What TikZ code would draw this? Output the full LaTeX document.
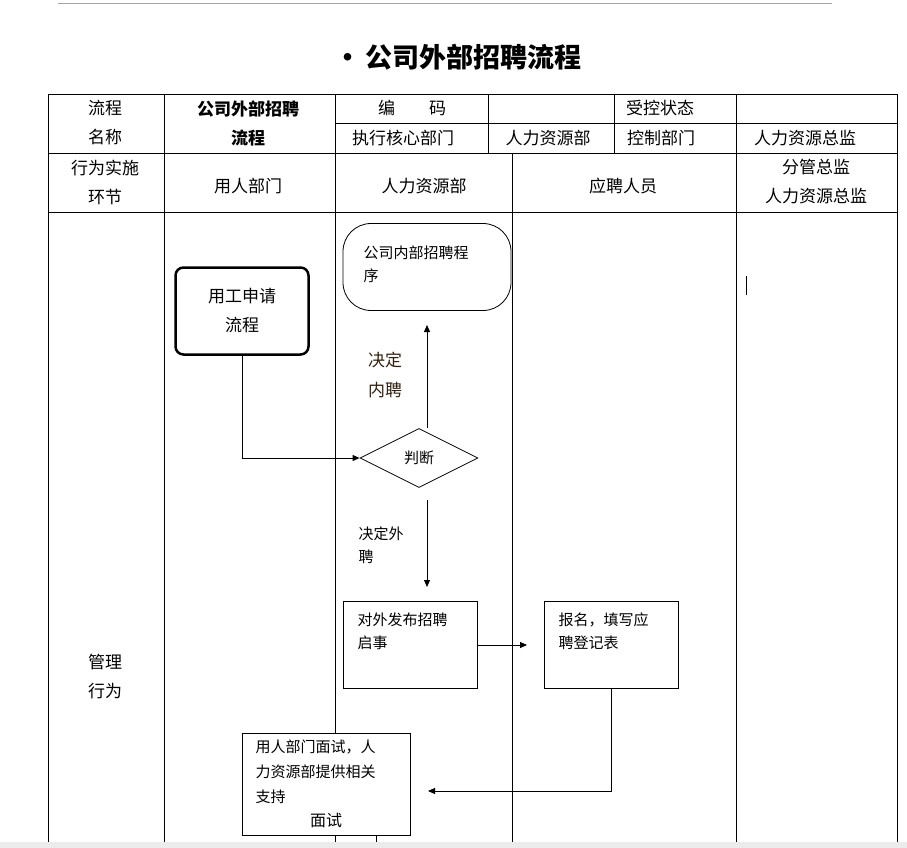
\documentclass[tikz,border=0pt]{standalone}
\usepackage{fontspec}
\setmainfont{Noto Sans CJK SC}
\usetikzlibrary{shapes.geometric,arrows.meta}
\begin{document}
\begin{tikzpicture}[x=1pt,y=-1pt,
  tl/.style={font=\fontsize{17}{29}\selectfont},
  arr/.style={-{Triangle[length=7pt,width=6pt]},line width=0.9pt}]
\useasboundingbox (0,0) rectangle (907,848);
\draw[gray!70,line width=1pt] (58,4) -- (832,4);
\node[font=\fontsize{27}{30}\selectfont\bfseries] (title) at (458,57) {•\,公司外部招聘流程};
% table
\draw[line width=0.9pt] (48,848) -- (48,94) -- (897,94) -- (897,848);
\draw[line width=0.8pt] (335,123) -- (897,123);
\draw[line width=0.8pt] (48,153) -- (897,153);
\draw[line width=0.8pt] (48,212) -- (897,212);
\foreach \x in {164,335} \draw[line width=0.8pt] (\x,94) -- (\x,848);
\foreach \x in {488,614,736} \draw[line width=0.8pt] (\x,94) -- (\x,153);
\foreach \x in {512,736} \draw[line width=0.8pt] (\x,153) -- (\x,848);
\node[tl,align=center] (h1) at (105,123) {流程\\名称};
\node[tl,align=center,font=\fontsize{17}{29}\selectfont\bfseries] (h2) at (248,123) {公司外部招聘\\流程};
\node[tl] (h3) at (412,108) {编\hspace{2em}码};
\node[tl] (h4) at (660,108) {受控状态};
\node[tl] (h5) at (403,138) {执行核心部门};
\node[tl] (h6) at (548,138) {人力资源部};
\node[tl] (h7) at (661,138) {控制部门};
\node[tl] (h8) at (805,138) {人力资源总监};
\node[tl,align=center] (r1) at (105,182) {行为实施\\环节};
\node[tl] (r2) at (248,186) {用人部门};
\node[tl] (r3) at (424,186) {人力资源部};
\node[tl] (r4) at (623,186) {应聘人员};
\node[tl,align=center] (r5) at (816,182) {分管总监\\人力资源总监};
\node[tl,align=center] (mg) at (105,677) {管理\\行为};
% flow
\node[draw,line width=2.5pt,rounded corners=8pt,minimum width=133pt,minimum height=87pt,align=center,font=\fontsize{17}{29}\selectfont] (req) at (242,311) {用工申请\\流程};
\node[draw,line width=0.8pt,rounded corners=28pt,minimum width=168pt,minimum height=87pt] (inner) at (427,267) {};
\node[font=\fontsize{15}{23}\selectfont,align=left,anchor=north west] (innert) at (360,242) {公司内部招聘程\\序};
\node[draw,diamond,aspect=2,line width=0.8pt,minimum width=118pt,minimum height=59pt,inner sep=0pt,font=\fontsize{15}{17}\selectfont] (dec) at (419,458) {判断};
\coordinate (upS) at (427,428);
\coordinate (upE) at (427,325);
\draw[arr] (upS) -- (upE);
\node[font=\fontsize{17}{30}\selectfont,text=black!75!brown,align=center] (lbl1) at (385,375) {决定\\内聘};
\draw[arr] (req.south) |- (dec.west);
\coordinate (dnS) at (427,500);
\coordinate (dnE) at (427,587);
\draw[arr] (dnS) -- (dnE);
\node[font=\fontsize{15}{23}\selectfont,align=left,anchor=north west] (lbl2) at (355,523) {决定外\\聘};
\node[draw,line width=0.8pt,minimum width=134pt,minimum height=87pt] (pub) at (410,645) {};
\node[font=\fontsize{15}{23}\selectfont,align=left,anchor=north west] (pubt) at (354,609) {对外发布招聘\\启事};
\node[draw,line width=0.8pt,minimum width=134pt,minimum height=87pt] (reg) at (611,645) {};
\node[font=\fontsize{15}{23}\selectfont,align=left,anchor=north west] (regt) at (555,609) {报名，填写应\\聘登记表};
\coordinate (pubE) at (527,645);
\draw[arr] (pub.east) -- (pubE);
\node[draw,fill=white,line width=0.8pt,minimum width=168pt,minimum height=102pt] (itv) at (326,784) {};
\node[font=\fontsize{15}{25}\selectfont,align=left,anchor=north west] (itvt) at (252,736) {用人部门面试，人\\力资源部提供相关\\支持};
\node[font=\fontsize{16}{18}\selectfont] (itvl) at (326,820) {面试};
\coordinate (back) at (428,791);
\draw[arr] (reg.south) |- (back);
\draw[line width=0.8pt] (376,835) -- (376,848);
\draw[line width=0.8pt] (746,276) -- (746,295);
\fill[gray!15] (0,842) rectangle (907,848);
\end{tikzpicture}
\end{document}
